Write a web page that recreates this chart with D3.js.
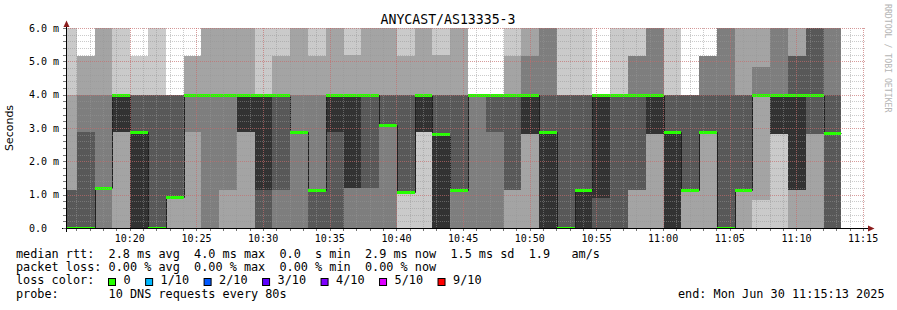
<!DOCTYPE html>
<html>
<head>
<meta charset="utf-8">
<script src="https://cdn.jsdelivr.net/npm/d3@7/dist/d3.min.js"></script>
<style>
body { margin: 0; background: #fff; }
text { font-family: "DejaVu Sans Mono", monospace; }
</style>
</head>
<body>
<svg width="897" height="310"></svg>
<script>
// chart data
var title = "ANYCAST/AS13335-3";
var startTime = new Date(Date.UTC(2025, 5, 30, 10, 15, 13));
var endTime = new Date(Date.UTC(2025, 5, 30, 11, 15, 13));
var firstBin = new Date(Date.UTC(2025, 5, 30, 10, 14, 42));
var binSeconds = 80;

var yTicks = [0, 1, 2, 3, 4, 5, 6];
var yTickLabels = ["0.0", "1.0 m", "2.0 m", "3.0 m", "4.0 m", "5.0 m", "6.0 m"];

// median rtt per 80s step (ms)
var medians = [0, 0, 1.2, 4, 2.87, 0, 0.92, 4, 4, 4, 4,
    4, 4, 2.87, 1.15, 4, 4, 4, 3.1, 1.07, 4, 2.82,
    1.15, 4, 4, 4, 4, 2.87, 0, 1.15, 4, 4, 4,
    4, 2.87, 1.15, 2.87, 0, 1.15, 4, 4, 4, 4, 2.85];

// lost pings per step (out of 10)
var loss = [0, 0, 0, 0, 0, 0, 0, 0, 0, 0, 0,
    0, 0, 0, 0, 0, 0, 0, 0, 0, 0, 0,
    0, 0, 0, 0, 0, 0, 0, 0, 0, 0, 0,
    0, 0, 0, 0, 0, 0, 0, 0, 0, 0, 0];

// the 10 sorted ping times of each step (ms)
var pings = [
    [0, 0, 0, 0, 0, 0, 1.15, 1.15, 4, 6],
    [0, 0, 0, 0, 0, 0, 2.87, 4, 5.15, 5.15],
    [0, 0, 0, 1.2, 1.2, 1.2, 1.2, 4, 6, 6],
    [0, 0, 2.87, 2.87, 2.87, 4, 4, 4, 4, 6],
    [0, 0, 0, 0, 0, 2.87, 4, 4, 4, 5.15],
    [0, 0, 0, 0, 0, 0, 4, 4, 4, 6],
    [0, 0, 0.92, 0.92, 0.92, 0.92, 4, 4, 4, 4],
    [0, 0, 2.87, 4, 4, 4, 4, 4, 5.15, 5.15],
    [0, 0, 0, 4, 4, 4, 4, 4, 6, 6],
    [0, 0, 1.15, 4, 4, 4, 4, 4, 6, 6],
    [0, 0, 2.87, 2.87, 2.87, 4, 4, 4, 6, 6],
    [0, 0, 0, 0, 1.15, 4, 4, 4, 4, 6],
    [0, 0, 0, 1.15, 4, 4, 4, 4, 5.15, 6],
    [0, 0, 0, 2.87, 2.87, 2.87, 2.87, 4, 6, 6],
    [0, 0, 0, 0, 1.15, 1.15, 1.15, 4, 5.15, 6],
    [0, 0, 0, 0, 2.87, 4, 4, 4, 6, 6],
    [0, 0, 0, 1.2, 1.2, 4, 4, 4, 5.2, 6],
    [0, 0, 0, 1.2, 4, 4, 4, 4, 6, 6],
    [0, 0, 0, 3.1, 3.1, 3.1, 4, 4, 6, 6],
    [0, 1.07, 1.07, 1.07, 1.07, 1.07, 4, 4, 5.15, 6],
    [0, 2.87, 2.87, 2.87, 2.87, 4, 4, 4, 6, 6],
    [0, 0, 0, 0, 0, 2.82, 4, 4, 5.2, 6],
    [0, 0, 0, 1.15, 1.15, 1.15, 4, 4, 6, 6],
    [0, 0, 0, 4, 4, 4, 4, 4, 4, 4],
    [0, 0, 0, 2.87, 4, 4, 4, 4, 4, 4],
    [0, 0, 1.15, 1.15, 4, 4, 4, 4, 5.15, 6],
    [0, 0, 2.82, 2.82, 2.82, 4, 4, 5.15, 6, 6],
    [0, 0, 0, 0, 0, 2.87, 4, 6, 6, 6],
    [0, 0, 0, 0, 0, 0, 4, 4, 4, 6],
    [0, 0, 0, 0, 0, 1.15, 4, 4, 4, 6],
    [0, 0, 0, 0, 0.9, 4, 4, 4, 4, 4],
    [0, 0, 0, 0, 4, 4, 4, 4, 4, 6],
    [0, 0, 1.15, 1.15, 4, 4, 4, 5.15, 5.15, 6],
    [0, 0, 2.82, 2.82, 2.82, 4, 4, 6, 6, 6],
    [0, 0, 0, 0, 0, 2.87, 4, 4, 4, 6],
    [0, 0, 1.15, 1.15, 1.15, 1.15, 4, 4, 4, 4],
    [0, 0, 2.87, 2.87, 2.87, 2.87, 4, 5.15, 5.15, 5.15],
    [0, 0, 0, 0, 0, 0, 4, 6, 6, 6],
    [0, 0, 1.15, 1.15, 1.15, 1.15, 4, 4, 6, 6],
    [0, 0.84, 4, 4, 4, 4, 4, 4.84, 6, 6],
    [0, 2.82, 2.82, 2.82, 2.82, 4, 4, 6, 6, 6],
    [0, 0, 1.15, 1.15, 1.15, 4, 5.15, 5.15, 6, 6],
    [0, 0, 2.82, 2.82, 4, 4, 6, 6, 6, 6],
    [0, 0, 0, 0, 2.85, 2.85, 4, 6, 6, 6]
];

var lossLabels = ["0", "1/10", "2/10", "3/10", "4/10", "5/10", "9/10"];
var lossColors = ["#26ff00", "#00b8ff", "#0059ff", "#5e00ff", "#7e00ff", "#dd00ff", "#ff0000"];

var statLines = [
    "median rtt:  2.8 ms avg  4.0 ms max  0.0  s min  2.9 ms now  1.5 ms sd  1.9   am/s",
    "packet loss: 0.00 % avg  0.00 % max  0.00 % min  0.00 % now",
    "loss color:",
    "probe:       10 DNS requests every 80s"
];
var endLabel = "end: Mon Jun 30 11:15:13 2025";

// smoke shades, outer pair lightest
var shades = ["#cacaca", "#a4a4a4", "#7e7e7e", "#585858", "#323232"];

var svg = d3.select("svg");

var x = d3.scaleUtc().domain([startTime, endTime]).range([66, 866]);
var y = d3.scaleLinear().domain([0, 6]).range([228, 28]).clamp(true);

svg.append("defs").append("clipPath").attr("id", "plot")
    .append("rect").attr("x", 67).attr("y", 28).attr("width", 799).attr("height", 200);

function binStart(i) { return new Date(firstBin.getTime() + i * binSeconds * 1000); }
function binEnd(i) { return new Date(firstBin.getTime() + (i + 1) * binSeconds * 1000); }

var plot = svg.append("g").attr("clip-path", "url(#plot)");

// smoke
pings.forEach(function(p, i) {
    for (var k = 0; k < 5; k++) {
        var top = y(p[9 - k]), bot = y(p[k]);
        if (bot - top <= 0) continue;
        plot.append("rect")
            .attr("x", Math.round(x(binStart(i))))
            .attr("width", Math.round(x(binEnd(i))) - Math.round(x(binStart(i))))
            .attr("y", Math.round(top))
            .attr("height", Math.round(bot) - Math.round(top))
            .attr("fill", shades[k])
            .attr("shape-rendering", "crispEdges");
    }
});

// median step line
var stepPts = [];
medians.forEach(function(m, i) {
    stepPts.push([Math.round(x(binStart(i))), Math.round(y(m))]);
    stepPts.push([Math.round(x(binEnd(i))), Math.round(y(m))]);
});
plot.append("path")
    .attr("d", d3.line()(stepPts.map(function(d) { return [d[0] + 0.5, d[1] + 0.5]; })))
    .attr("fill", "none")
    .attr("stroke", "#202020")
    .attr("stroke-width", 1);

plot.selectAll(".med")
    .data(medians)
    .enter()
    .append("line")
    .attr("class", "med")
    .attr("x1", function(d, i) { return Math.round(x(binStart(i))); })
    .attr("x2", function(d, i) { return Math.round(x(binEnd(i))); })
    .attr("y1", function(d) { return Math.round(y(d)) + 0.5; })
    .attr("y2", function(d) { return Math.round(y(d)) + 0.5; })
    .attr("stroke", function(d, i) { return lossColors[loss[i]]; })
    .attr("stroke-width", 3);

// grid
var grid = svg.append("g");
var minorT = d3.utcMinute.every(1).range(startTime, endTime);
var majorT = d3.utcMinute.every(5).range(startTime, endTime);
var yMinor = d3.range(0, 6.01, 0.2);

grid.selectAll(".vmin").data(minorT).enter().append("line")
    .attr("x1", function(d) { return Math.round(x(d)) + 0.5; })
    .attr("x2", function(d) { return Math.round(x(d)) + 0.5; })
    .attr("y1", 28).attr("y2", 228)
    .attr("stroke", "rgba(150,150,150,0.5)").attr("stroke-dasharray", "1,1");
grid.selectAll(".hmin").data(yMinor).enter().append("line")
    .attr("y1", function(d) { return Math.round(y(d)) + 0.5; })
    .attr("y2", function(d) { return Math.round(y(d)) + 0.5; })
    .attr("x1", 66).attr("x2", 866)
    .attr("stroke", "rgba(150,150,150,0.5)").attr("stroke-dasharray", "1,1");
grid.selectAll(".vmaj").data(majorT).enter().append("line")
    .attr("x1", function(d) { return Math.round(x(d)) + 0.5; })
    .attr("x2", function(d) { return Math.round(x(d)) + 0.5; })
    .attr("y1", 28).attr("y2", 228)
    .attr("stroke", "rgba(240,70,70,0.35)").attr("stroke-dasharray", "1,1");
grid.selectAll(".hmaj").data(yTicks).enter().append("line")
    .attr("y1", function(d) { return Math.round(y(d)) + 0.5; })
    .attr("y2", function(d) { return Math.round(y(d)) + 0.5; })
    .attr("x1", 66).attr("x2", 866)
    .attr("stroke", "rgba(240,70,70,0.35)").attr("stroke-dasharray", "1,1");

// axes and ticks
var axes = svg.append("g").attr("stroke", "#000").attr("shape-rendering", "crispEdges");
axes.append("line").attr("x1", 62).attr("x2", 868).attr("y1", 228.5).attr("y2", 228.5);
axes.append("line").attr("x1", 66.5).attr("x2", 66.5).attr("y1", 232).attr("y2", 24);
axes.selectAll(".yt").data(yMinor).enter().append("line")
    .attr("x1", 63).attr("x2", 66)
    .attr("y1", function(d) { return Math.round(y(d)) + 0.5; })
    .attr("y2", function(d) { return Math.round(y(d)) + 0.5; })
    .attr("stroke", "#777");
axes.selectAll(".xt").data(minorT).enter().append("line")
    .attr("y1", 229).attr("y2", 231)
    .attr("x1", function(d) { return Math.round(x(d)) + 0.5; })
    .attr("x2", function(d) { return Math.round(x(d)) + 0.5; })
    .attr("stroke", "#777");

svg.append("path").attr("d", "M63.5,27L66.5,20.5L69.5,27Z").attr("fill", "#8b1c1c");
svg.append("path").attr("d", "M868,225.5L874.5,228.5L868,231.5Z").attr("fill", "#8b1c1c");

// tick labels
svg.selectAll(".ylab").data(yTicks).enter().append("text")
    .attr("x", 29)
    .attr("y", function(d) { return y(d) + 3.7; })
    .attr("font-size", "10px")
    .text(function(d, i) { return yTickLabels[i]; });

svg.selectAll(".xlab").data(majorT).enter().append("text")
    .attr("x", function(d) { return x(d); })
    .attr("y", 241.5)
    .attr("text-anchor", "middle")
    .attr("font-size", "10px")
    .text(function(d) { return d3.utcFormat("%H:%M")(d); });

svg.append("text").text(title)
    .attr("x", 448).attr("y", 24)
    .attr("text-anchor", "middle")
    .attr("font-size", "13.2px");

svg.append("text").text("Seconds")
    .attr("transform", "translate(13,128) rotate(-90)")
    .attr("text-anchor", "middle")
    .style("font-family", "'DejaVu Sans', sans-serif")
    .attr("font-size", "11px");

svg.append("text").text("RRDTOOL / TOBI OETIKER")
    .attr("transform", "translate(885,4) rotate(90)")
    .attr("font-size", "8.2px")
    .attr("fill", "#b4b4b4");

// legend
var rowY = [257.8, 271.1, 284.4, 297.7];
statLines.forEach(function(s, i) {
    svg.append("text").text(s)
        .attr("x", 16).attr("y", rowY[i])
        .attr("font-size", "11.83px")
        .style("white-space", "pre");
});
svg.append("text").text(endLabel)
    .attr("x", 678).attr("y", rowY[3])
    .attr("font-size", "11.83px")
    .style("white-space", "pre");

var bx = 108.5;
lossLabels.forEach(function(l, i) {
    svg.append("rect")
        .attr("x", bx).attr("y", 278.5).attr("width", 7).attr("height", 7)
        .attr("fill", lossColors[i]).attr("stroke", "#000");
    svg.append("text").text(l)
        .attr("x", bx + 15).attr("y", rowY[2])
        .attr("font-size", "11.83px");
    bx = bx + 15 + l.length * 7.12 + 15;
});
</script>
</body>
</html>
